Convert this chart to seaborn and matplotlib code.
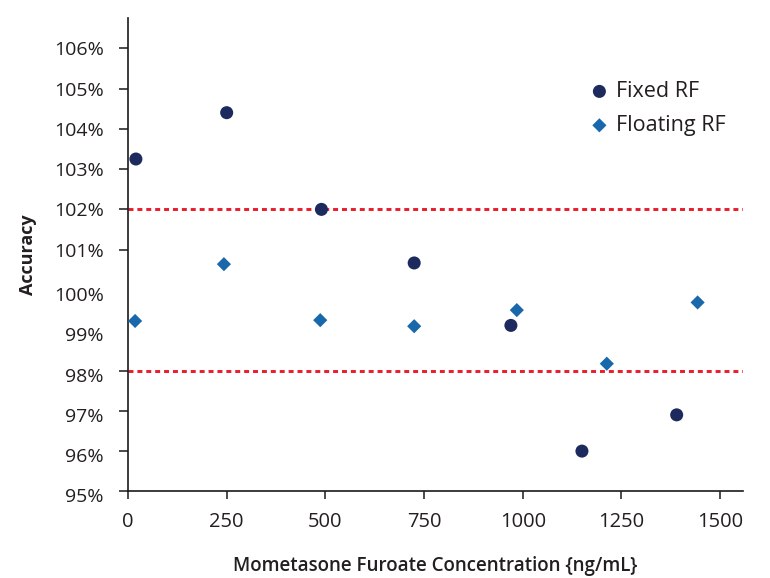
import matplotlib
matplotlib.use("Agg")
import matplotlib.pyplot as plt
import matplotlib.transforms as mtransforms
import seaborn as sns
import pandas as pd

# ---- data ----
fixed_conc = [20, 250, 490, 725, 970, 1150, 1390]
fixed_acc = [103.25, 104.40, 102.00, 100.67, 99.12, 96.00, 96.90]
floating_conc = [18, 243, 487, 725, 985, 1213, 1443]
floating_acc = [99.23, 100.64, 99.25, 99.10, 99.50, 98.17, 99.69]
limits = [102, 98]
y_ticks = [95, 96, 97, 98, 99, 100, 101, 102, 103, 104, 105, 106]
y_tick_labels = ["95%", "96%", "97%", "98%", "99%", "100%", "101%", "102%",
                 "103%", "104%", "105%", "106%"]
x_ticks = [0, 250, 500, 750, 1000, 1250, 1500]

df_fixed = pd.DataFrame({"conc": fixed_conc, "acc": fixed_acc})
df_float = pd.DataFrame({"conc": floating_conc, "acc": floating_acc})

sns.set_style("ticks")
plt.rcParams["font.family"] = ["Open Sans", "DejaVu Sans"]

fig = plt.figure(figsize=(7.7, 5.78), dpi=100)
ax = fig.add_axes([128 / 770, 1 - 491.4 / 578, (743 - 128) / 770, (491.4 - 18) / 578])

for y in limits:
    ax.axhline(y, color="#ea1c2a", lw=2.1, dashes=(1.7, 1.35), zorder=1)

sns.scatterplot(data=df_fixed, x="conc", y="acc", ax=ax, marker="o", s=88,
                color="#1c2a5e", edgecolor="none", label="Fixed RF", zorder=3)
sns.scatterplot(data=df_float, x="conc", y="acc", ax=ax, marker="D", s=52,
                color="#1a68ac", edgecolor="none", label="Floating RF", zorder=3)

ax.set_xlim(0, 1558)
ax.set_ylim(95, 106.75)
ax.set_xticks(x_ticks)
ax.set_xticklabels([str(v) for v in x_ticks])
ax.set_yticks(y_ticks)
ax.set_yticklabels(y_tick_labels)

for s in ["top", "right"]:
    ax.spines[s].set_visible(False)
for s in ["left", "bottom"]:
    ax.spines[s].set_linewidth(1.2)
    ax.spines[s].set_color("#1a1a1a")

ax.tick_params(axis="y", direction="out", length=6.5, width=1.1, pad=11,
               labelsize=14, colors="#1a1a1a", labelcolor="#231f20")
ax.tick_params(axis="x", direction="out", length=6, width=1.1, pad=9,
               labelsize=14.5, colors="#1a1a1a", labelcolor="#231f20")

# the reference lacks tick marks at 100% and 99% and draws the lower labels slightly low
for tick, val in zip(ax.yaxis.get_major_ticks(), y_ticks):
    if val in (99, 100):
        tick.tick1line.set_visible(False)
    if val <= 100:
        off = mtransforms.ScaledTranslation(0, -4 / 100, fig.dpi_scale_trans)
        tick.label1.set_transform(tick.label1.get_transform() + off)

ax.set_ylabel("Accuracy", fontsize=13, fontweight="bold", color="#231f20", labelpad=12)
ax.set_xlabel("Mometasone Furoate Concentration {ng/mL}", fontsize=13.5,
              fontweight="semibold", color="#231f20", labelpad=17)

leg = ax.legend(loc="upper right", bbox_to_anchor=(0.985, 0.885), frameon=False,
                fontsize=15.5, handletextpad=0.25, labelspacing=0.6,
                borderaxespad=0.0, handlelength=1.0)
for t in leg.get_texts():
    t.set_color("#231f20")

fig.savefig("out.png", dpi=100)
